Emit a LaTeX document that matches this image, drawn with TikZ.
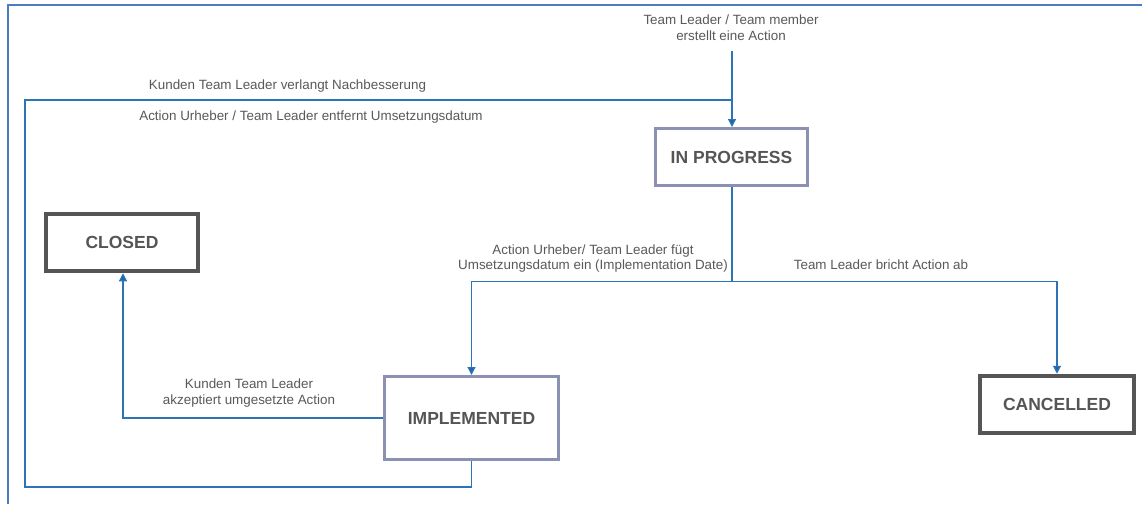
\documentclass[tikz,border=0pt]{standalone}
\usepackage{fontspec}
\setmainfont{Liberation Sans}
\usetikzlibrary{arrows.meta,calc}
\definecolor{frameblue}{HTML}{4A7EBF}
\definecolor{linkblue}{HTML}{2E74B5}
\definecolor{tipblue}{HTML}{1F64AE}
\definecolor{statusedge}{HTML}{8C91B3}
\definecolor{finaledge}{HTML}{555555}
\definecolor{labelgray}{HTML}{595959}
\definecolor{titlegray}{HTML}{555555}

\begin{document}
\begin{tikzpicture}[x=1pt,y=-1pt,
  state/.style={draw=statusedge, line width=3pt, fill=white, inner sep=0pt,
    font=\fontsize{17.5}{20}\selectfont\bfseries, text=titlegray},
  final/.style={state, draw=finaledge, line width=4.5pt},
  link/.style={draw=linkblue, line width=1.2pt},
  arr/.style={link, -{Triangle[length=8pt,width=8pt,fill=tipblue]}},
  note/.style={font=\fontsize{13.4}{15.5}\selectfont, text=labelgray, align=center, inner sep=0pt},
]
% canvas
\fill[white] (0,0) rectangle (1142,504);
\useasboundingbox (0,0) rectangle (1142,504);

% frame along the top and left edge
\coordinate (frbl) at (8,504);
\coordinate (frtl) at (8,5);
\coordinate (frtr) at (1142,5);
\draw[frameblue, line width=2.5pt] (frbl) -- (frtl) -- (frtr);

% states
\node[state, minimum width=152pt, minimum height=57pt] (ip) at (731.5,157) {IN PROGRESS};
\node[final, minimum width=152pt, minimum height=57pt] (closed) at (122,242.5) {CLOSED};
\node[state, minimum width=174pt, minimum height=83pt] (impl) at (471.5,418) {IMPLEMENTED};
\node[final, minimum width=154pt, minimum height=57pt] (cancel) at (1057,404.5) {CANCELLED};

% entry into IN PROGRESS
\coordinate (start) at (732,51);
\coordinate (join) at (732,100);
\draw[arr] (start) -- (start |- ip.north);
\node[note] (lstart) at (731,27.5) {Team Leader / Team member\\erstellt eine Action};

% split below IN PROGRESS
\coordinate (split) at (732,281.5);
\draw[link] (split |- ip.south) -- (split);
\draw[arr] (split) -| (impl.north);
\draw[arr] (split) -| (cancel.north);
\node[note] (limpl) at (593,258.5) {Action Urheber/ Team Leader fügt\\Umsetzungsdatum ein (Implementation Date)};
\node[note] (lcancel) at (881,265) {Team Leader bricht Action ab};

% IMPLEMENTED -> CLOSED
\draw[arr] (impl.west) -| ([xshift=1pt]closed.south);
\node[note] (lclosed) at (249,393) {Kunden Team Leader\\akzeptiert umgesetzte Action};

% IMPLEMENTED back to IN PROGRESS
\coordinate (loopbl) at (25,487);
\draw[link] (impl.south) |- (loopbl) |- (join);
\node[note] (lback1) at (287.5,86.5) {Kunden Team Leader verlangt Nachbesserung};
\node[note] (lback2) at (311,117.5) {Action Urheber / Team Leader entfernt Umsetzungsdatum};
\end{tikzpicture}
\end{document}
